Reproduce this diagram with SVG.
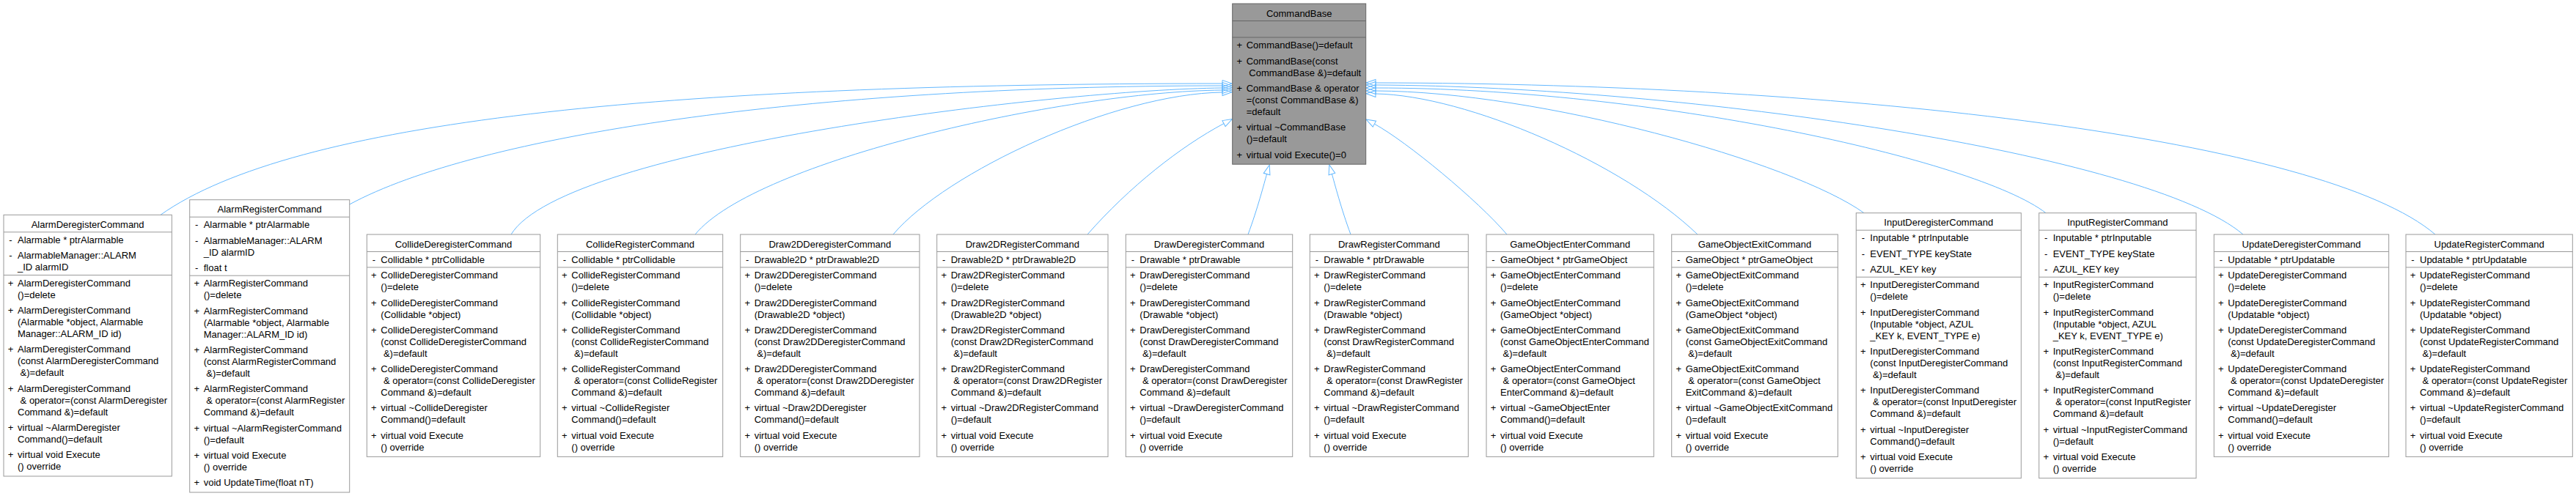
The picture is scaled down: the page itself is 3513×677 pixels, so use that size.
<svg xmlns="http://www.w3.org/2000/svg" width="3513" height="677" viewBox="0 0 3513 677">
<style>
.box{fill:#fff;stroke:#999;stroke-width:1}
.bbox{fill:#999;stroke:#666;stroke-width:1}
.sep{fill:none;stroke:#999;stroke-width:1}
.bsep{fill:none;stroke:#666;stroke-width:1}
text{font-family:"Liberation Sans",Arial,Helvetica,sans-serif;font-size:13px;fill:#000}
.c{text-anchor:middle}
.e{fill:none;stroke:#63b8ff;stroke-width:1;marker-end:url(#ah)}
</style>
<defs>
<marker id="ah" markerUnits="userSpaceOnUse" markerWidth="16" markerHeight="12" viewBox="-1 -1.5 16 12" refX="0" refY="4.5" orient="auto" overflow="visible">
<path d="M0,0 L13,4.5 L0,9 Z" fill="none" stroke="#63b8ff" stroke-width="1"/>
</marker>
</defs>
<rect width="3513" height="677" fill="#fff"/>
<g id="connectors">
<path class="e" d="M219,293.3 C400,165 900,114 1667,114"/>
<path class="e" d="M476.7,279 C650,185 1100,117 1667,117"/>
<path class="e" d="M697,320 C770,200 1450,122 1667,120"/>
<path class="e" d="M948,320 C1030,220 1450,125 1667,123"/>
<path class="e" d="M1218,320 C1290,235 1520,128 1667,126"/>
<path class="e" d="M1483,320 C1540,255 1610,200 1669,168.6"/>
<path class="e" d="M1702,320 C1715,285 1724,250 1727.6,237.6"/>
<path class="e" d="M1842,320 C1829,285 1820,250 1816.4,237.5"/>
<path class="e" d="M2055,320 C2016,274 1918,193 1874.4,169.2"/>
<path class="e" d="M2315,320 C2214,223 2000,130 1876,128"/>
<path class="e" d="M2542,290.7 C2445,221 2100,125 1876,124"/>
<path class="e" d="M2790,290.7 C2695,217.5 2250,120 1876,120"/>
<path class="e" d="M3059,320 C2930,210 2300,118 1876,116"/>
<path class="e" d="M3321,320 C3169,190 2526,114 1876,113"/>
</g>
<g id="CommandBase" transform="translate(1680.7,5)">
<rect class="bbox" x="0" y="0" width="182" height="219.2"/>
<path class="bsep" d="M0,23.5H182M0,46H182"/>
<text class="c" x="91" y="17.6">CommandBase</text>
<text class="c" x="9.5" y="61.3">+</text><text x="19" y="61.3">CommandBase()=default</text>
<text class="c" x="9.5" y="82.6">+</text><text x="19" y="82.6">CommandBase(const</text><text x="22.6" y="98.6">CommandBase &amp;)=default</text>
<text class="c" x="9.5" y="119.9">+</text><text x="19" y="119.9">CommandBase &amp; operator</text><text x="19" y="135.9">=(const CommandBase &amp;)</text><text x="19" y="151.9">=default</text>
<text class="c" x="9.5" y="173.2">+</text><text x="19" y="173.2">virtual ~CommandBase</text><text x="19" y="189.2">()=default</text>
<text class="c" x="9.5" y="210.5">+</text><text x="19" y="210.5">virtual void Execute()=0</text>
</g>
<g id="AlarmDeregisterCommand" transform="translate(5,293.3)">
<rect class="box" x="0" y="0" width="229.3" height="356.7"/>
<path class="sep" d="M0,23.5H229.3M0,82.2H229.3"/>
<text class="c" x="114.65" y="17.6">AlarmDeregisterCommand</text>
<text class="c" x="9.5" y="38.8">-</text><text x="19" y="38.8">Alarmable * ptrAlarmable</text>
<text class="c" x="9.5" y="60.1">-</text><text x="19" y="60.1">AlarmableManager::ALARM</text><text x="19" y="76.1">_ID alarmID</text>
<text class="c" x="9.5" y="97.5">+</text><text x="19" y="97.5">AlarmDeregisterCommand</text><text x="19" y="113.5">()=delete</text>
<text class="c" x="9.5" y="134.8">+</text><text x="19" y="134.8">AlarmDeregisterCommand</text><text x="19" y="150.8">(Alarmable *object, Alarmable</text><text x="19" y="166.8">Manager::ALARM_ID id)</text>
<text class="c" x="9.5" y="188.1">+</text><text x="19" y="188.1">AlarmDeregisterCommand</text><text x="19" y="204.1">(const AlarmDeregisterCommand</text><text x="22.6" y="220.1">&amp;)=default</text>
<text class="c" x="9.5" y="241.4">+</text><text x="19" y="241.4">AlarmDeregisterCommand</text><text x="22.6" y="257.4">&amp; operator=(const AlarmDeregister</text><text x="19" y="273.4">Command &amp;)=default</text>
<text class="c" x="9.5" y="294.7">+</text><text x="19" y="294.7">virtual ~AlarmDeregister</text><text x="19" y="310.7">Command()=default</text>
<text class="c" x="9.5" y="332">+</text><text x="19" y="332">virtual void Execute</text><text x="19" y="348">() override</text>
</g>
<g id="AlarmRegisterCommand" transform="translate(258.7,272.7)">
<rect class="box" x="0" y="0" width="218" height="399.3"/>
<path class="sep" d="M0,23.5H218M0,103.5H218"/>
<text class="c" x="109" y="17.6">AlarmRegisterCommand</text>
<text class="c" x="9.5" y="38.8">-</text><text x="19" y="38.8">Alarmable * ptrAlarmable</text>
<text class="c" x="9.5" y="60.1">-</text><text x="19" y="60.1">AlarmableManager::ALARM</text><text x="19" y="76.1">_ID alarmID</text>
<text class="c" x="9.5" y="97.4">-</text><text x="19" y="97.4">float t</text>
<text class="c" x="9.5" y="118.8">+</text><text x="19" y="118.8">AlarmRegisterCommand</text><text x="19" y="134.8">()=delete</text>
<text class="c" x="9.5" y="156.1">+</text><text x="19" y="156.1">AlarmRegisterCommand</text><text x="19" y="172.1">(Alarmable *object, Alarmable</text><text x="19" y="188.1">Manager::ALARM_ID id)</text>
<text class="c" x="9.5" y="209.4">+</text><text x="19" y="209.4">AlarmRegisterCommand</text><text x="19" y="225.4">(const AlarmRegisterCommand</text><text x="22.6" y="241.4">&amp;)=default</text>
<text class="c" x="9.5" y="262.7">+</text><text x="19" y="262.7">AlarmRegisterCommand</text><text x="22.6" y="278.7">&amp; operator=(const AlarmRegister</text><text x="19" y="294.7">Command &amp;)=default</text>
<text class="c" x="9.5" y="316">+</text><text x="19" y="316">virtual ~AlarmRegisterCommand</text><text x="19" y="332">()=default</text>
<text class="c" x="9.5" y="353.3">+</text><text x="19" y="353.3">virtual void Execute</text><text x="19" y="369.3">() override</text>
<text class="c" x="9.5" y="390.6">+</text><text x="19" y="390.6">void UpdateTime(float nT)</text>
</g>
<g id="CollideDeregisterCommand" transform="translate(500.3,320)">
<rect class="box" x="0" y="0" width="236.4" height="303.4"/>
<path class="sep" d="M0,23.5H236.4M0,44.9H236.4"/>
<text class="c" x="118.2" y="17.6">CollideDeregisterCommand</text>
<text class="c" x="9.5" y="38.8">-</text><text x="19" y="38.8">Collidable * ptrCollidable</text>
<text class="c" x="9.5" y="60.2">+</text><text x="19" y="60.2">CollideDeregisterCommand</text><text x="19" y="76.2">()=delete</text>
<text class="c" x="9.5" y="97.5">+</text><text x="19" y="97.5">CollideDeregisterCommand</text><text x="19" y="113.5">(Collidable *object)</text>
<text class="c" x="9.5" y="134.8">+</text><text x="19" y="134.8">CollideDeregisterCommand</text><text x="19" y="150.8">(const CollideDeregisterCommand</text><text x="22.6" y="166.8">&amp;)=default</text>
<text class="c" x="9.5" y="188.1">+</text><text x="19" y="188.1">CollideDeregisterCommand</text><text x="22.6" y="204.1">&amp; operator=(const CollideDeregister</text><text x="19" y="220.1">Command &amp;)=default</text>
<text class="c" x="9.5" y="241.4">+</text><text x="19" y="241.4">virtual ~CollideDeregister</text><text x="19" y="257.4">Command()=default</text>
<text class="c" x="9.5" y="278.7">+</text><text x="19" y="278.7">virtual void Execute</text><text x="19" y="294.7">() override</text>
</g>
<g id="CollideRegisterCommand" transform="translate(760.3,320)">
<rect class="box" x="0" y="0" width="225.4" height="303.4"/>
<path class="sep" d="M0,23.5H225.4M0,44.9H225.4"/>
<text class="c" x="112.7" y="17.6">CollideRegisterCommand</text>
<text class="c" x="9.5" y="38.8">-</text><text x="19" y="38.8">Collidable * ptrCollidable</text>
<text class="c" x="9.5" y="60.2">+</text><text x="19" y="60.2">CollideRegisterCommand</text><text x="19" y="76.2">()=delete</text>
<text class="c" x="9.5" y="97.5">+</text><text x="19" y="97.5">CollideRegisterCommand</text><text x="19" y="113.5">(Collidable *object)</text>
<text class="c" x="9.5" y="134.8">+</text><text x="19" y="134.8">CollideRegisterCommand</text><text x="19" y="150.8">(const CollideRegisterCommand</text><text x="22.6" y="166.8">&amp;)=default</text>
<text class="c" x="9.5" y="188.1">+</text><text x="19" y="188.1">CollideRegisterCommand</text><text x="22.6" y="204.1">&amp; operator=(const CollideRegister</text><text x="19" y="220.1">Command &amp;)=default</text>
<text class="c" x="9.5" y="241.4">+</text><text x="19" y="241.4">virtual ~CollideRegister</text><text x="19" y="257.4">Command()=default</text>
<text class="c" x="9.5" y="278.7">+</text><text x="19" y="278.7">virtual void Execute</text><text x="19" y="294.7">() override</text>
</g>
<g id="Draw2DDeregisterCommand" transform="translate(1009.7,320)">
<rect class="box" x="0" y="0" width="244.3" height="303.4"/>
<path class="sep" d="M0,23.5H244.3M0,44.9H244.3"/>
<text class="c" x="122.15" y="17.6">Draw2DDeregisterCommand</text>
<text class="c" x="9.5" y="38.8">-</text><text x="19" y="38.8">Drawable2D * ptrDrawable2D</text>
<text class="c" x="9.5" y="60.2">+</text><text x="19" y="60.2">Draw2DDeregisterCommand</text><text x="19" y="76.2">()=delete</text>
<text class="c" x="9.5" y="97.5">+</text><text x="19" y="97.5">Draw2DDeregisterCommand</text><text x="19" y="113.5">(Drawable2D *object)</text>
<text class="c" x="9.5" y="134.8">+</text><text x="19" y="134.8">Draw2DDeregisterCommand</text><text x="19" y="150.8">(const Draw2DDeregisterCommand</text><text x="22.6" y="166.8">&amp;)=default</text>
<text class="c" x="9.5" y="188.1">+</text><text x="19" y="188.1">Draw2DDeregisterCommand</text><text x="22.6" y="204.1">&amp; operator=(const Draw2DDeregister</text><text x="19" y="220.1">Command &amp;)=default</text>
<text class="c" x="9.5" y="241.4">+</text><text x="19" y="241.4">virtual ~Draw2DDeregister</text><text x="19" y="257.4">Command()=default</text>
<text class="c" x="9.5" y="278.7">+</text><text x="19" y="278.7">virtual void Execute</text><text x="19" y="294.7">() override</text>
</g>
<g id="Draw2DRegisterCommand" transform="translate(1277.7,320)">
<rect class="box" x="0" y="0" width="233.3" height="303.4"/>
<path class="sep" d="M0,23.5H233.3M0,44.9H233.3"/>
<text class="c" x="116.65" y="17.6">Draw2DRegisterCommand</text>
<text class="c" x="9.5" y="38.8">-</text><text x="19" y="38.8">Drawable2D * ptrDrawable2D</text>
<text class="c" x="9.5" y="60.2">+</text><text x="19" y="60.2">Draw2DRegisterCommand</text><text x="19" y="76.2">()=delete</text>
<text class="c" x="9.5" y="97.5">+</text><text x="19" y="97.5">Draw2DRegisterCommand</text><text x="19" y="113.5">(Drawable2D *object)</text>
<text class="c" x="9.5" y="134.8">+</text><text x="19" y="134.8">Draw2DRegisterCommand</text><text x="19" y="150.8">(const Draw2DRegisterCommand</text><text x="22.6" y="166.8">&amp;)=default</text>
<text class="c" x="9.5" y="188.1">+</text><text x="19" y="188.1">Draw2DRegisterCommand</text><text x="22.6" y="204.1">&amp; operator=(const Draw2DRegister</text><text x="19" y="220.1">Command &amp;)=default</text>
<text class="c" x="9.5" y="241.4">+</text><text x="19" y="241.4">virtual ~Draw2DRegisterCommand</text><text x="19" y="257.4">()=default</text>
<text class="c" x="9.5" y="278.7">+</text><text x="19" y="278.7">virtual void Execute</text><text x="19" y="294.7">() override</text>
</g>
<g id="DrawDeregisterCommand" transform="translate(1535.3,320)">
<rect class="box" x="0" y="0" width="227.4" height="303.4"/>
<path class="sep" d="M0,23.5H227.4M0,44.9H227.4"/>
<text class="c" x="113.7" y="17.6">DrawDeregisterCommand</text>
<text class="c" x="9.5" y="38.8">-</text><text x="19" y="38.8">Drawable * ptrDrawable</text>
<text class="c" x="9.5" y="60.2">+</text><text x="19" y="60.2">DrawDeregisterCommand</text><text x="19" y="76.2">()=delete</text>
<text class="c" x="9.5" y="97.5">+</text><text x="19" y="97.5">DrawDeregisterCommand</text><text x="19" y="113.5">(Drawable *object)</text>
<text class="c" x="9.5" y="134.8">+</text><text x="19" y="134.8">DrawDeregisterCommand</text><text x="19" y="150.8">(const DrawDeregisterCommand</text><text x="22.6" y="166.8">&amp;)=default</text>
<text class="c" x="9.5" y="188.1">+</text><text x="19" y="188.1">DrawDeregisterCommand</text><text x="22.6" y="204.1">&amp; operator=(const DrawDeregister</text><text x="19" y="220.1">Command &amp;)=default</text>
<text class="c" x="9.5" y="241.4">+</text><text x="19" y="241.4">virtual ~DrawDeregisterCommand</text><text x="19" y="257.4">()=default</text>
<text class="c" x="9.5" y="278.7">+</text><text x="19" y="278.7">virtual void Execute</text><text x="19" y="294.7">() override</text>
</g>
<g id="DrawRegisterCommand" transform="translate(1786.3,320)">
<rect class="box" x="0" y="0" width="216" height="303.4"/>
<path class="sep" d="M0,23.5H216M0,44.9H216"/>
<text class="c" x="108" y="17.6">DrawRegisterCommand</text>
<text class="c" x="9.5" y="38.8">-</text><text x="19" y="38.8">Drawable * ptrDrawable</text>
<text class="c" x="9.5" y="60.2">+</text><text x="19" y="60.2">DrawRegisterCommand</text><text x="19" y="76.2">()=delete</text>
<text class="c" x="9.5" y="97.5">+</text><text x="19" y="97.5">DrawRegisterCommand</text><text x="19" y="113.5">(Drawable *object)</text>
<text class="c" x="9.5" y="134.8">+</text><text x="19" y="134.8">DrawRegisterCommand</text><text x="19" y="150.8">(const DrawRegisterCommand</text><text x="22.6" y="166.8">&amp;)=default</text>
<text class="c" x="9.5" y="188.1">+</text><text x="19" y="188.1">DrawRegisterCommand</text><text x="22.6" y="204.1">&amp; operator=(const DrawRegister</text><text x="19" y="220.1">Command &amp;)=default</text>
<text class="c" x="9.5" y="241.4">+</text><text x="19" y="241.4">virtual ~DrawRegisterCommand</text><text x="19" y="257.4">()=default</text>
<text class="c" x="9.5" y="278.7">+</text><text x="19" y="278.7">virtual void Execute</text><text x="19" y="294.7">() override</text>
</g>
<g id="GameObjectEnterCommand" transform="translate(2027,320)">
<rect class="box" x="0" y="0" width="228.3" height="303.4"/>
<path class="sep" d="M0,23.5H228.3M0,44.9H228.3"/>
<text class="c" x="114.15" y="17.6">GameObjectEnterCommand</text>
<text class="c" x="9.5" y="38.8">-</text><text x="19" y="38.8">GameObject * ptrGameObject</text>
<text class="c" x="9.5" y="60.2">+</text><text x="19" y="60.2">GameObjectEnterCommand</text><text x="19" y="76.2">()=delete</text>
<text class="c" x="9.5" y="97.5">+</text><text x="19" y="97.5">GameObjectEnterCommand</text><text x="19" y="113.5">(GameObject *object)</text>
<text class="c" x="9.5" y="134.8">+</text><text x="19" y="134.8">GameObjectEnterCommand</text><text x="19" y="150.8">(const GameObjectEnterCommand</text><text x="22.6" y="166.8">&amp;)=default</text>
<text class="c" x="9.5" y="188.1">+</text><text x="19" y="188.1">GameObjectEnterCommand</text><text x="22.6" y="204.1">&amp; operator=(const GameObject</text><text x="19" y="220.1">EnterCommand &amp;)=default</text>
<text class="c" x="9.5" y="241.4">+</text><text x="19" y="241.4">virtual ~GameObjectEnter</text><text x="19" y="257.4">Command()=default</text>
<text class="c" x="9.5" y="278.7">+</text><text x="19" y="278.7">virtual void Execute</text><text x="19" y="294.7">() override</text>
</g>
<g id="GameObjectExitCommand" transform="translate(2279.7,320)">
<rect class="box" x="0" y="0" width="226.6" height="303.4"/>
<path class="sep" d="M0,23.5H226.6M0,44.9H226.6"/>
<text class="c" x="113.3" y="17.6">GameObjectExitCommand</text>
<text class="c" x="9.5" y="38.8">-</text><text x="19" y="38.8">GameObject * ptrGameObject</text>
<text class="c" x="9.5" y="60.2">+</text><text x="19" y="60.2">GameObjectExitCommand</text><text x="19" y="76.2">()=delete</text>
<text class="c" x="9.5" y="97.5">+</text><text x="19" y="97.5">GameObjectExitCommand</text><text x="19" y="113.5">(GameObject *object)</text>
<text class="c" x="9.5" y="134.8">+</text><text x="19" y="134.8">GameObjectExitCommand</text><text x="19" y="150.8">(const GameObjectExitCommand</text><text x="22.6" y="166.8">&amp;)=default</text>
<text class="c" x="9.5" y="188.1">+</text><text x="19" y="188.1">GameObjectExitCommand</text><text x="22.6" y="204.1">&amp; operator=(const GameObject</text><text x="19" y="220.1">ExitCommand &amp;)=default</text>
<text class="c" x="9.5" y="241.4">+</text><text x="19" y="241.4">virtual ~GameObjectExitCommand</text><text x="19" y="257.4">()=default</text>
<text class="c" x="9.5" y="278.7">+</text><text x="19" y="278.7">virtual void Execute</text><text x="19" y="294.7">() override</text>
</g>
<g id="InputDeregisterCommand" transform="translate(2531.3,290.7)">
<rect class="box" x="0" y="0" width="225" height="362"/>
<path class="sep" d="M0,23.5H225M0,87.5H225"/>
<text class="c" x="112.5" y="17.6">InputDeregisterCommand</text>
<text class="c" x="9.5" y="38.8">-</text><text x="19" y="38.8">Inputable * ptrInputable</text>
<text class="c" x="9.5" y="60.1">-</text><text x="19" y="60.1">EVENT_TYPE keyState</text>
<text class="c" x="9.5" y="81.4">-</text><text x="19" y="81.4">AZUL_KEY key</text>
<text class="c" x="9.5" y="102.8">+</text><text x="19" y="102.8">InputDeregisterCommand</text><text x="19" y="118.8">()=delete</text>
<text class="c" x="9.5" y="140.1">+</text><text x="19" y="140.1">InputDeregisterCommand</text><text x="19" y="156.1">(Inputable *object, AZUL</text><text x="19" y="172.1">_KEY k, EVENT_TYPE e)</text>
<text class="c" x="9.5" y="193.4">+</text><text x="19" y="193.4">InputDeregisterCommand</text><text x="19" y="209.4">(const InputDeregisterCommand</text><text x="22.6" y="225.4">&amp;)=default</text>
<text class="c" x="9.5" y="246.7">+</text><text x="19" y="246.7">InputDeregisterCommand</text><text x="22.6" y="262.7">&amp; operator=(const InputDeregister</text><text x="19" y="278.7">Command &amp;)=default</text>
<text class="c" x="9.5" y="300">+</text><text x="19" y="300">virtual ~InputDeregister</text><text x="19" y="316">Command()=default</text>
<text class="c" x="9.5" y="337.3">+</text><text x="19" y="337.3">virtual void Execute</text><text x="19" y="353.3">() override</text>
</g>
<g id="InputRegisterCommand" transform="translate(2780.7,290.7)">
<rect class="box" x="0" y="0" width="214.3" height="362"/>
<path class="sep" d="M0,23.5H214.3M0,87.5H214.3"/>
<text class="c" x="107.15" y="17.6">InputRegisterCommand</text>
<text class="c" x="9.5" y="38.8">-</text><text x="19" y="38.8">Inputable * ptrInputable</text>
<text class="c" x="9.5" y="60.1">-</text><text x="19" y="60.1">EVENT_TYPE keyState</text>
<text class="c" x="9.5" y="81.4">-</text><text x="19" y="81.4">AZUL_KEY key</text>
<text class="c" x="9.5" y="102.8">+</text><text x="19" y="102.8">InputRegisterCommand</text><text x="19" y="118.8">()=delete</text>
<text class="c" x="9.5" y="140.1">+</text><text x="19" y="140.1">InputRegisterCommand</text><text x="19" y="156.1">(Inputable *object, AZUL</text><text x="19" y="172.1">_KEY k, EVENT_TYPE e)</text>
<text class="c" x="9.5" y="193.4">+</text><text x="19" y="193.4">InputRegisterCommand</text><text x="19" y="209.4">(const InputRegisterCommand</text><text x="22.6" y="225.4">&amp;)=default</text>
<text class="c" x="9.5" y="246.7">+</text><text x="19" y="246.7">InputRegisterCommand</text><text x="22.6" y="262.7">&amp; operator=(const InputRegister</text><text x="19" y="278.7">Command &amp;)=default</text>
<text class="c" x="9.5" y="300">+</text><text x="19" y="300">virtual ~InputRegisterCommand</text><text x="19" y="316">()=default</text>
<text class="c" x="9.5" y="337.3">+</text><text x="19" y="337.3">virtual void Execute</text><text x="19" y="353.3">() override</text>
</g>
<g id="UpdateDeregisterCommand" transform="translate(3019.3,320)">
<rect class="box" x="0" y="0" width="238.4" height="303.4"/>
<path class="sep" d="M0,23.5H238.4M0,44.9H238.4"/>
<text class="c" x="119.2" y="17.6">UpdateDeregisterCommand</text>
<text class="c" x="9.5" y="38.8">-</text><text x="19" y="38.8">Updatable * ptrUpdatable</text>
<text class="c" x="9.5" y="60.2">+</text><text x="19" y="60.2">UpdateDeregisterCommand</text><text x="19" y="76.2">()=delete</text>
<text class="c" x="9.5" y="97.5">+</text><text x="19" y="97.5">UpdateDeregisterCommand</text><text x="19" y="113.5">(Updatable *object)</text>
<text class="c" x="9.5" y="134.8">+</text><text x="19" y="134.8">UpdateDeregisterCommand</text><text x="19" y="150.8">(const UpdateDeregisterCommand</text><text x="22.6" y="166.8">&amp;)=default</text>
<text class="c" x="9.5" y="188.1">+</text><text x="19" y="188.1">UpdateDeregisterCommand</text><text x="22.6" y="204.1">&amp; operator=(const UpdateDeregister</text><text x="19" y="220.1">Command &amp;)=default</text>
<text class="c" x="9.5" y="241.4">+</text><text x="19" y="241.4">virtual ~UpdateDeregister</text><text x="19" y="257.4">Command()=default</text>
<text class="c" x="9.5" y="278.7">+</text><text x="19" y="278.7">virtual void Execute</text><text x="19" y="294.7">() override</text>
</g>
<g id="UpdateRegisterCommand" transform="translate(3281,320)">
<rect class="box" x="0" y="0" width="227.3" height="303.4"/>
<path class="sep" d="M0,23.5H227.3M0,44.9H227.3"/>
<text class="c" x="113.65" y="17.6">UpdateRegisterCommand</text>
<text class="c" x="9.5" y="38.8">-</text><text x="19" y="38.8">Updatable * ptrUpdatable</text>
<text class="c" x="9.5" y="60.2">+</text><text x="19" y="60.2">UpdateRegisterCommand</text><text x="19" y="76.2">()=delete</text>
<text class="c" x="9.5" y="97.5">+</text><text x="19" y="97.5">UpdateRegisterCommand</text><text x="19" y="113.5">(Updatable *object)</text>
<text class="c" x="9.5" y="134.8">+</text><text x="19" y="134.8">UpdateRegisterCommand</text><text x="19" y="150.8">(const UpdateRegisterCommand</text><text x="22.6" y="166.8">&amp;)=default</text>
<text class="c" x="9.5" y="188.1">+</text><text x="19" y="188.1">UpdateRegisterCommand</text><text x="22.6" y="204.1">&amp; operator=(const UpdateRegister</text><text x="19" y="220.1">Command &amp;)=default</text>
<text class="c" x="9.5" y="241.4">+</text><text x="19" y="241.4">virtual ~UpdateRegisterCommand</text><text x="19" y="257.4">()=default</text>
<text class="c" x="9.5" y="278.7">+</text><text x="19" y="278.7">virtual void Execute</text><text x="19" y="294.7">() override</text>
</g>
</svg>
